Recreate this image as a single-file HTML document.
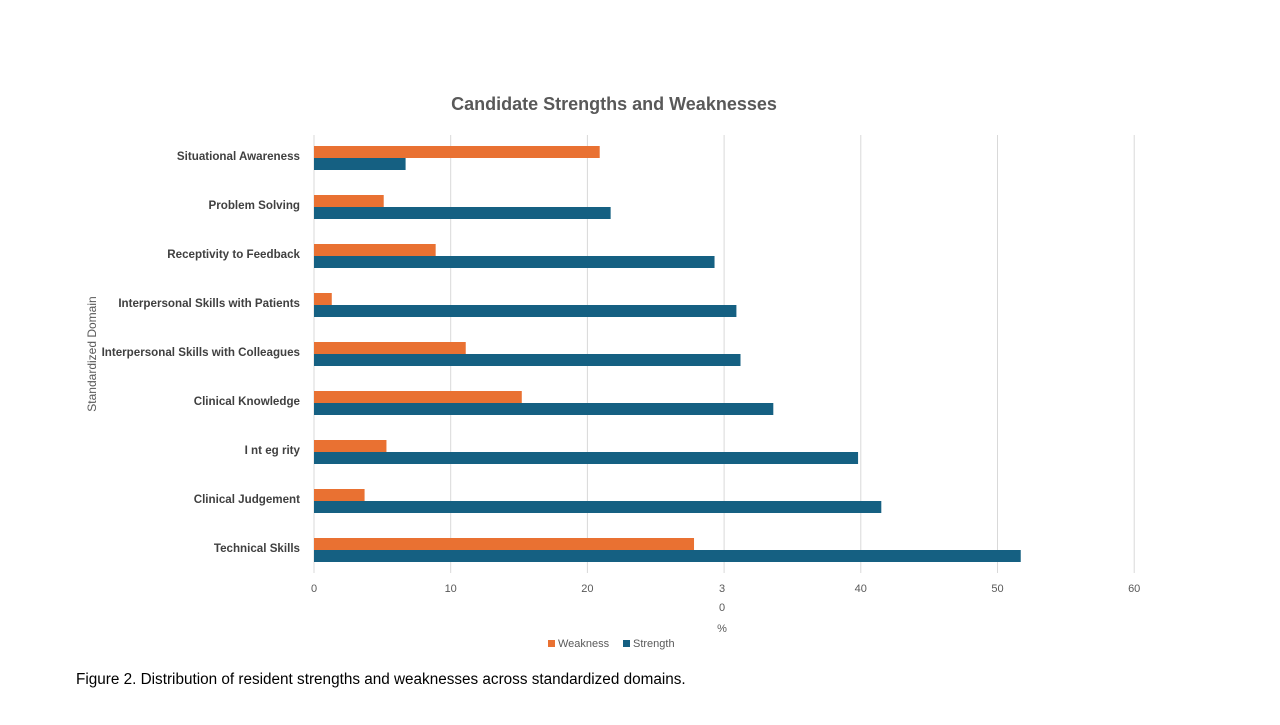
<!DOCTYPE html>
<html><head><meta charset="utf-8"><style>
body{margin:0;background:#fff;font-family:"Liberation Sans",sans-serif;}
</style></head><body>
<svg width="1280" height="720" xmlns="http://www.w3.org/2000/svg" font-family="Liberation Sans, sans-serif">
<text x="614" y="110" text-anchor="middle" font-size="18" font-weight="bold" fill="#595959">Candidate Strengths and Weaknesses</text>
<g id="grid"></g><g id="bars"></g><g id="labels"></g>
<text x="722" y="592" text-anchor="middle" font-size="11" fill="#595959">3</text>
<text x="722" y="611" text-anchor="middle" font-size="11" fill="#595959">0</text>
<text x="722" y="632" text-anchor="middle" font-size="11" fill="#595959">%</text>
<text transform="translate(96,354) rotate(-90)" text-anchor="middle" font-size="12" fill="#595959">Standardized Domain</text>
<g>
<rect x="548" y="640" width="7" height="7" fill="#E97132"/>
<text x="558" y="647" font-size="11" fill="#595959">Weakness</text>
<rect x="623" y="640" width="7" height="7" fill="#156082"/>
<text x="633" y="647" font-size="11" fill="#595959">Strength</text>
</g>
<text x="76" y="684" font-size="15.3" fill="#000">Figure 2. Distribution of resident strengths and weaknesses across standardized domains.</text>
</svg>
<script>
const categories=["Situational Awareness","Problem Solving","Receptivity to Feedback","Interpersonal Skills with Patients","Interpersonal Skills with Colleagues","Clinical Knowledge","I nt eg rity","Clinical Judgement","Technical Skills"];
const weakness=[20.9,5.1,8.9,1.3,11.1,15.2,5.3,3.7,27.8];
const strength=[6.7,21.7,29.3,30.9,31.2,33.6,39.8,41.5,51.7];
const ticks=[0,10,20,30,40,50,60];
const NS="http://www.w3.org/2000/svg";
const x=v=>314+v*13.67;
const yc=i=>156+i*49;
function mk(t,a,p){const e=document.createElementNS(NS,t);for(const k in a)e.setAttribute(k,a[k]);p.appendChild(e);return e;}
const g=document.getElementById('grid'),b=document.getElementById('bars'),l=document.getElementById('labels');
ticks.forEach(t=>{
 const ln=mk('line',{x1:x(t),x2:x(t),y1:135,y2:573,stroke:'#d9d9d9','stroke-width':1},g);
 
 
 if(t!==30){const tx=mk('text',{x:x(t),y:592,'text-anchor':'middle','font-size':11,fill:'#595959'},l);tx.textContent=t;
 
 }
});
categories.forEach((c,i)=>{
 const w=mk('rect',{x:x(0),y:yc(i)-10,width:x(weakness[i])-x(0),height:12,fill:'#E97132'},b);
 
 
 const s=mk('rect',{x:x(0),y:yc(i)+2,width:x(strength[i])-x(0),height:12,fill:'#156082'},b);
 
 
 const t=mk('text',{x:300,y:yc(i)+4,'text-anchor':'end','font-size':11.6,'font-weight':'bold',fill:'#404040'},l);t.textContent=c;
 
 
});
</script>
</body></html>
